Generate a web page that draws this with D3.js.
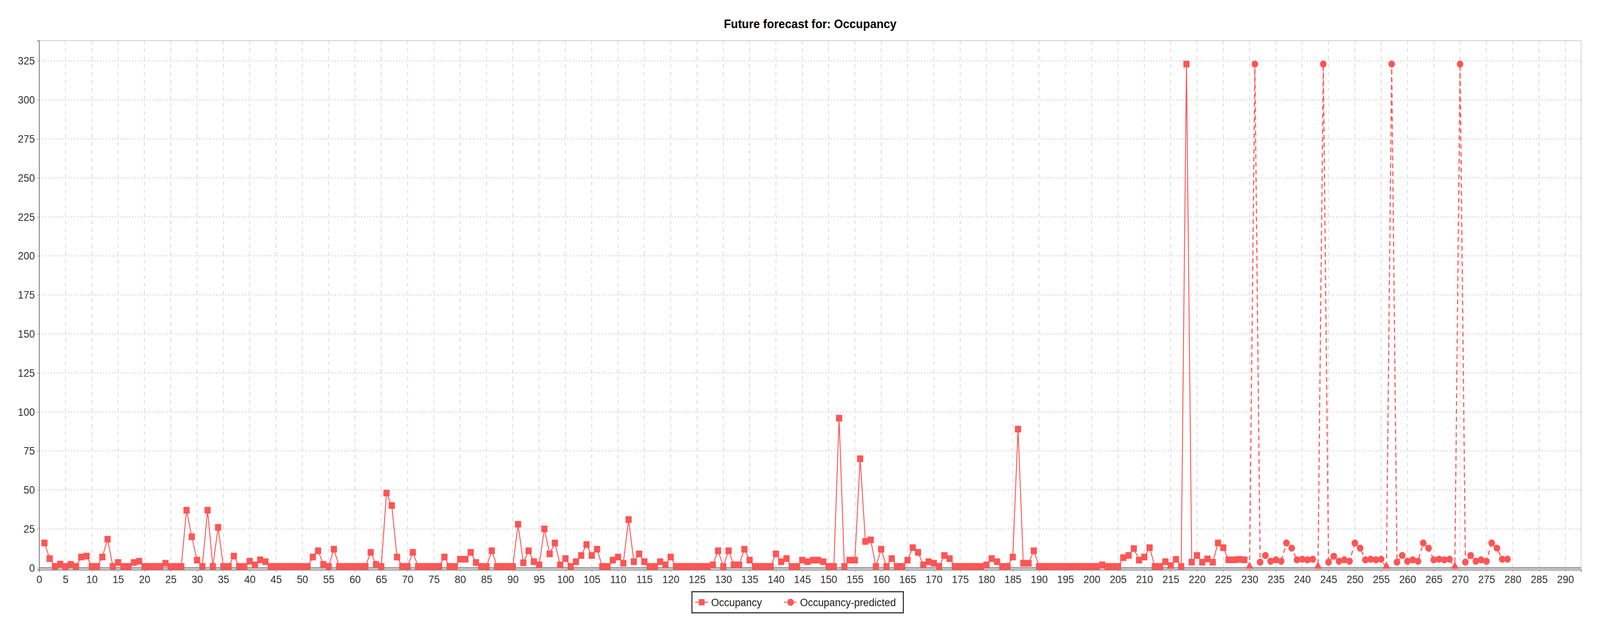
<!DOCTYPE html>
<html>
<head>
<meta charset="utf-8">
<script src="https://cdn.jsdelivr.net/npm/d3@7"></script>
<style>
  html, body { margin: 0; padding: 0; background: #fff; overflow: hidden; }
  #chart { display: block; width: 100vw; height: 100vh; }
  text { font-family: "Liberation Sans", Arial, sans-serif; }
</style>
</head>
<body>
<svg id="chart" viewBox="0 0 4412 1612" preserveAspectRatio="none"></svg>
<script>
(function(){
'use strict';

// observed occupancy, x = 1..229
var occupancy = [
    16, 6, 1, 2.5, 1, 2.3, 1, 7, 7.6, 1,
    1, 7, 18.4, 1, 3.5, 1, 1, 3.5, 4.3, 1,
    1, 1, 1, 3, 1, 1, 1, 37, 20, 5,
    1, 37, 1, 26, 1, 1, 7.6, 1, 1, 4.3,
    2, 5.2, 4, 1, 1, 1, 1, 1, 1, 1,
    1, 7, 11, 2.3, 1, 12, 1, 1, 1, 1,
    1, 1, 10, 2.3, 1, 48, 40, 7, 1, 1,
    10, 1, 1, 1, 1, 1, 7, 1, 1, 5.6,
    5.6, 10, 3.5, 1, 1, 11, 1, 1, 1, 1,
    28, 3.3, 11, 4, 2, 25, 9, 16, 2, 6,
    1, 4, 8, 15, 8, 12, 1, 1, 5, 7,
    3, 31, 4, 9, 4, 1, 1, 4, 2, 7,
    1, 1, 1, 1, 1, 1, 1, 2, 11, 1,
    11, 2, 2, 12, 5, 1, 1, 1, 1, 9,
    4, 6, 1, 1, 5, 4, 5, 5, 4, 1,
    1, 96, 1, 5, 5, 70, 17, 18, 1, 12,
    1, 6, 1, 1, 5, 13, 10, 2, 4, 3,
    1, 8, 6, 1, 1, 1, 1, 1, 1, 2,
    6, 4, 1, 1, 7, 89, 3, 3, 11, 1,
    1, 1, 1, 1, 1, 1, 1, 1, 1, 1,
    1, 2, 1, 1, 1, 6.6, 8, 12.4, 5, 7,
    13, 1, 1, 4, 1.5, 5.5, 1, 323, 3.7, 8,
    3.7, 5.8, 3.7, 16, 13, 5.2, 5.2, 5.5, 5.2
];
var occupancyStart = 1;

// forecast, x = 230..279
var predicted = [
    0, 323, 3.7, 8, 4.3, 5.2, 4.3, 16, 12.7, 5.2, 5.6, 5.2, 5.6,
    0, 323, 3.7, 7.5, 4.3, 5.2, 4.3, 16, 12.7, 5.2, 5.6, 5.2, 5.6,
    0, 323, 3.7, 8, 4.3, 5.2, 4.3, 16, 12.7, 5.2, 5.6, 5.2, 5.6,
    0, 323, 3.7, 8, 4.3, 5.2, 4.3, 16, 12.7, 5.6, 5.6
];
var predictedStart = 230;

var seriesNames = ['Occupancy', 'Occupancy-predicted'];
var xTicks = d3.range(0, 291, 5);
var yTicks = d3.range(0, 326, 25);
var title = 'Future forecast for: Occupancy';

var RED = '#ff5555';
var margin = {left: 108, right: 52, top: 104, bottom: 154};
var W = 4412, H = 1612;

var svg = d3.select('#chart');

var x = d3.scaleLinear().domain([0, 293])
    .range([margin.left, W - margin.right]);
var y = d3.scaleLinear().domain([-1.2, 338])
    .range([H - margin.bottom, margin.top]);

svg.append('text')
    .attr('x', (margin.left + W - margin.right) / 2)
    .attr('y', 72)
    .attr('text-anchor', 'middle')
    .attr('font-size', 32)
    .attr('font-weight', 'bold')
    .text(title);

// plot background + grid
svg.append('rect')
    .attr('x', margin.left).attr('y', margin.top)
    .attr('width', W - margin.left - margin.right)
    .attr('height', H - margin.top - margin.bottom)
    .attr('fill', '#fff');

svg.append('g').selectAll('line').data(xTicks).join('line')
    .attr('x1', function(d){ return x(d); }).attr('x2', function(d){ return x(d); })
    .attr('y1', margin.top).attr('y2', H - margin.bottom)
    .attr('stroke', '#d6d6d6').attr('stroke-width', 2)
    .attr('stroke-dasharray', '10,10');

svg.append('g').selectAll('line').data(yTicks).join('line')
    .attr('x1', margin.left).attr('x2', W - margin.right)
    .attr('y1', function(d){ return y(d); }).attr('y2', function(d){ return y(d); })
    .attr('stroke', '#d6d6d6').attr('stroke-width', 3)
    .attr('stroke-dasharray', '3,5');

svg.append('line')
    .attr('x1', margin.left).attr('x2', W - margin.right)
    .attr('y1', y(0)).attr('y2', y(0))
    .attr('stroke', '#999').attr('stroke-width', 4);

svg.append('rect')
    .attr('x', margin.left).attr('y', margin.top)
    .attr('width', W - margin.left - margin.right)
    .attr('height', H - margin.top - margin.bottom)
    .attr('fill', 'none').attr('stroke', '#cfcfcf').attr('stroke-width', 2);

// axes
var xAxis = svg.append('g')
    .attr('transform', 'translate(0,' + (H - margin.bottom) + ')')
    .call(d3.axisBottom(x).tickValues(xTicks).tickSize(6).tickPadding(8));
var yAxis = svg.append('g')
    .attr('transform', 'translate(' + margin.left + ',0)')
    .call(d3.axisLeft(y).tickValues(yTicks).tickSize(6).tickPadding(6));
[xAxis, yAxis].forEach(function(a){
    a.selectAll('text').attr('font-size', 28).attr('fill', '#333')
        .attr('font-family', '"Liberation Sans Narrow", "Liberation Sans", sans-serif');
    a.selectAll('line').attr('stroke', '#777');
    a.select('.domain').attr('stroke', '#777').attr('stroke-width', 2);
});

var occData = occupancy.map(function(v, i){ return [occupancyStart + i, v]; });
var predData = predicted.map(function(v, i){ return [predictedStart + i, v]; });

var line = d3.line()
    .x(function(d){ return x(d[0]); })
    .y(function(d){ return y(d[1]); });

svg.append('path').datum(occData).attr('d', line)
    .attr('fill', 'none').attr('stroke', RED).attr('stroke-width', 2.5);
svg.append('path').datum(predData).attr('d', line)
    .attr('fill', 'none').attr('stroke', RED).attr('stroke-width', 3)
    .attr('stroke-dasharray', '12,8');

var sq = 17;
svg.append('g').selectAll('rect').data(occData).join('rect')
    .attr('x', function(d){ return x(d[0]) - sq / 2; })
    .attr('y', function(d){ return y(d[1]) - sq / 2; })
    .attr('width', sq).attr('height', sq).attr('fill', RED);

var circleSym = d3.symbol().type(d3.symbolCircle).size(260);
var triSym = d3.symbol().type(d3.symbolTriangle).size(200);
svg.append('g').selectAll('path').data(predData).join('path')
    .attr('d', function(d){ return d[1] === 0 ? triSym() : circleSym(); })
    .attr('transform', function(d){
        return 'translate(' + x(d[0]) + ',' + (y(d[1]) - (d[1] === 0 ? 4 : 0)) + ')';
    })
    .attr('fill', RED);

// legend
var lg = svg.append('g');
lg.append('rect').attr('x', 1908).attr('y', 1514).attr('width', 583).attr('height', 54)
    .attr('fill', '#fff').attr('stroke', '#333').attr('stroke-width', 3);
var items = [{x: 1935}, {x: 2180}];
seriesNames.forEach(function(name, i){
    var lx = items[i].x, ly = 1541;
    lg.append('line').attr('x1', lx - 18).attr('x2', lx + 18)
        .attr('y1', ly).attr('y2', ly).attr('stroke', RED).attr('stroke-width', 2.5)
        .attr('stroke-dasharray', i ? '8,5' : null);
    if (i === 0) {
        lg.append('rect').attr('x', lx - 8).attr('y', ly - 8)
            .attr('width', 16).attr('height', 16).attr('fill', RED);
    } else {
        lg.append('path').attr('d', circleSym())
            .attr('transform', 'translate(' + lx + ',' + ly + ')').attr('fill', RED);
    }
    lg.append('text').attr('x', lx + 26).attr('y', ly + 10)
        .attr('font-size', 28).attr('fill', '#222').text(name);
});

})();
</script>
</body>
</html>
